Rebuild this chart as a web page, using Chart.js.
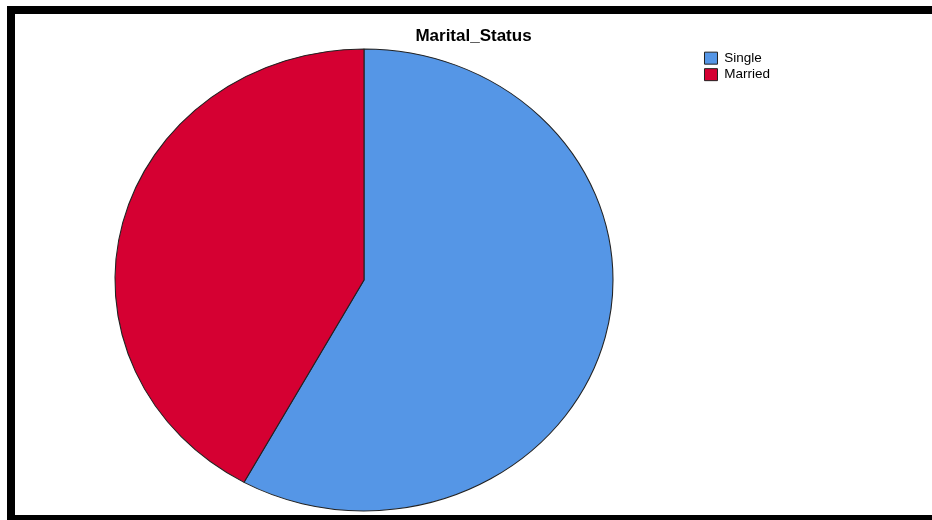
<!DOCTYPE html>
<html>
<head>
<meta charset="utf-8">
<script src="https://cdn.jsdelivr.net/npm/chart.js@4/dist/chart.umd.min.js"></script>
<style>
  html, body { margin: 0; padding: 0; background: #fff; overflow: hidden; width: 932px; height: 520px; }
  #frame { position: absolute; left: 7px; top: 6px; width: 2000px; height: 501px;
           border-top: 8px solid #000; border-left: 8px solid #000; border-bottom: 8px solid #000; }
  #c { position: absolute; left: 0; top: 0; }
</style>
</head>
<body>
<div id="frame"></div>
<canvas id="c" width="932" height="520"></canvas>
<script>
const chartTitle = 'Marital_Status';
const categories = ['Single', 'Married'];
const percentages = [58, 42];
const sliceColors = ['#5596E6', '#D50032'];

// pie is drawn as an ellipse (wider than tall) like the reference
const ellipseStretchX = 249 / 231;
const ellipsePlugin = {
  id: 'ellipse',
  beforeDatasetsDraw(chart) {
    const arc = chart.getDatasetMeta(0).data[0];
    const ctx = chart.ctx;
    ctx.save();
    ctx.translate(arc.x, arc.y);
    ctx.scale(ellipseStretchX, 1);
    ctx.translate(-arc.x, -arc.y);
  },
  afterDatasetsDraw(chart) {
    chart.ctx.restore();
  }
};

// centre the title over the whole framed panel rather than the padded layout area
const framedInnerLeft = 15;
const titleSpanPlugin = {
  id: 'titleSpan',
  afterLayout(chart) {
    if (chart.titleBlock) {
      chart.titleBlock.left = framedInnerLeft;
      chart.titleBlock.right = chart.width;
    }
  }
};

new Chart(document.getElementById('c'), {
  type: 'pie',
  data: {
    labels: categories,
    datasets: [{
      data: percentages,
      backgroundColor: sliceColors,
      borderColor: '#222',
      borderWidth: 1
    }]
  },
  options: {
    responsive: false,
    devicePixelRatio: 1,
    animation: false,
    layout: { padding: { left: 26.5, right: 152, top: 0, bottom: 8.6 } },
    plugins: {
      title: {
        display: true,
        text: chartTitle,
        color: '#000',
        font: { family: '"Liberation Sans", Arial, sans-serif', size: 17, weight: 'bold' },
        padding: { top: 26, bottom: 2 }
      },
      legend: {
        display: true,
        position: 'right',
        align: 'start',
        fullSize: false,
        labels: {
          color: '#000',
          font: { family: '"Liberation Sans", Arial, sans-serif', size: 13.5 },
          boxWidth: 13,
          boxHeight: 12,
          padding: 3
        }
      },
      tooltip: { enabled: false }
    }
  },
  plugins: [ellipsePlugin, titleSpanPlugin]
});
</script>
</body>
</html>
